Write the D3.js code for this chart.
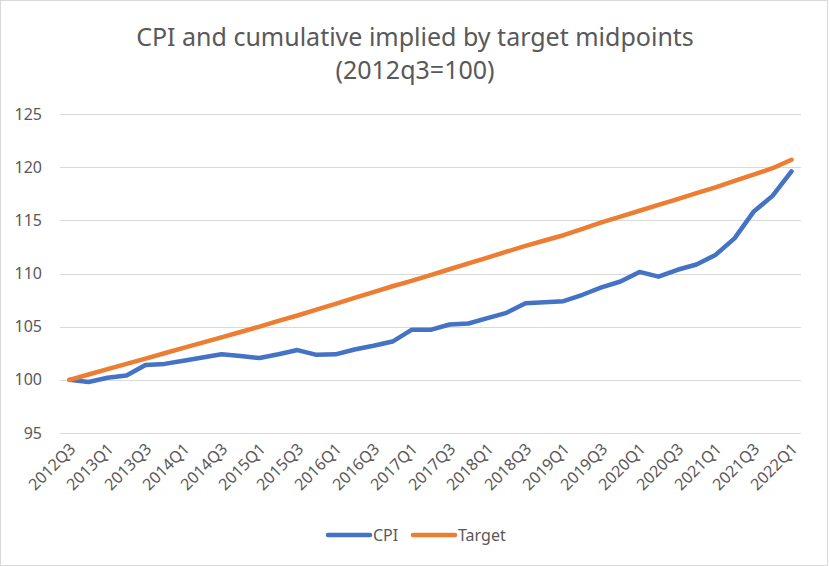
<!DOCTYPE html>
<html>
<head>
<meta charset="utf-8">
<script src="https://cdn.jsdelivr.net/npm/d3@7"></script>
<style>
  html, body { margin: 0; padding: 0; background: #fff; }
  svg { display: block; }
</style>
</head>
<body>
<script>
// quarters 2012Q3 .. 2022Q1
const quarters = [
  "2012Q3","2012Q4","2013Q1","2013Q2","2013Q3","2013Q4","2014Q1","2014Q2","2014Q3","2014Q4",
  "2015Q1","2015Q2","2015Q3","2015Q4","2016Q1","2016Q2","2016Q3","2016Q4","2017Q1","2017Q2",
  "2017Q3","2017Q4","2018Q1","2018Q2","2018Q3","2018Q4","2019Q1","2019Q2","2019Q3","2019Q4",
  "2020Q1","2020Q2","2020Q3","2020Q4","2021Q1","2021Q2","2021Q3","2021Q4","2022Q1"
];

const cpi = [
  100.0, 99.8, 100.2, 100.4, 101.4, 101.5, 101.8, 102.1, 102.4, 102.25,
  102.05, 102.4, 102.8, 102.35, 102.4, 102.85, 103.2, 103.6, 104.7, 104.7,
  105.2, 105.3, 105.8, 106.3, 107.2, 107.3, 107.4, 108.0, 108.7, 109.25,
  110.15, 109.7, 110.35, 110.85, 111.75, 113.3, 115.8, 117.3, 119.6
];

const target = [
  100.0, 100.5, 101.0, 101.5, 102.0, 102.5, 103.0, 103.5, 104.0, 104.5,
  105.0, 105.55, 106.05, 106.6, 107.15, 107.7, 108.25, 108.8, 109.3, 109.85,
  110.4, 110.95, 111.5, 112.05, 112.6, 113.1, 113.6, 114.2, 114.8, 115.35,
  115.9, 116.45, 117.0, 117.55, 118.1, 118.7, 119.3, 119.9, 120.7
];

const yTicks = [95, 100, 105, 110, 115, 120, 125];

const series = [
  { name: "CPI", values: cpi, color: "#4472C4" },
  { name: "Target", values: target, color: "#ED7D31" }
];

const width = 830, height = 566;
const margin = { top: 114, right: 29, bottom: 133, left: 60 };
const font = "'Segoe UI', 'Noto Sans', 'Open Sans', sans-serif";
const textColor = "#595959";

const svg = d3.select("body").append("svg")
  .attr("width", width)
  .attr("height", height)
  .attr("viewBox", [0, 0, width, height]);

// chart border
svg.append("rect")
  .attr("x", 0.5).attr("y", 0.5)
  .attr("width", width - 3).attr("height", height - 1)
  .attr("fill", "#fff")
  .attr("stroke", "#d9d9d9");

const x = d3.scaleBand()
  .domain(quarters)
  .range([margin.left, width - margin.right]);

const y = d3.scaleLinear()
  .domain([95, 125])
  .range([height - margin.bottom, margin.top]);

// gridlines
svg.append("g")
  .selectAll("line")
  .data(yTicks)
  .join("line")
  .attr("x1", margin.left)
  .attr("x2", width - margin.right)
  .attr("y1", d => Math.round(y(d)) + 0.5)
  .attr("y2", d => Math.round(y(d)) + 0.5)
  .attr("stroke", "#d9d9d9")
  .attr("stroke-width", 1);

// y axis labels
svg.append("g")
  .style("font", `16px ${font}`)
  .attr("fill", textColor)
  .selectAll("text")
  .data(yTicks)
  .join("text")
  .attr("x", 42)
  .attr("y", d => y(d))
  .attr("dy", "0.35em")
  .attr("text-anchor", "end")
  .text(d => d);

// x axis labels, every second quarter, rotated
const xLabels = quarters.filter((d, i) => i % 2 === 0);
svg.append("g")
  .style("font", `16px ${font}`)
  .attr("fill", textColor)
  .selectAll("text")
  .data(xLabels)
  .join("text")
  .attr("text-anchor", "end")
  .attr("transform", d => {
    const cx = x(d) + x.bandwidth() / 2 + 7;
    const cy = height - margin.bottom + 17;
    return `translate(${cx},${cy}) rotate(-45)`;
  })
  .text(d => d);

// lines
const line = d3.line()
  .x((d, i) => x(quarters[i]) + x.bandwidth() / 2)
  .y(d => y(d));

svg.append("g")
  .attr("fill", "none")
  .selectAll("path")
  .data(series)
  .join("path")
  .attr("d", d => line(d.values))
  .attr("stroke", d => d.color)
  .attr("stroke-width", 4.5)
  .attr("stroke-linejoin", "round")
  .attr("stroke-linecap", "round");

// title
svg.append("text")
  .attr("x", width / 2)
  .attr("text-anchor", "middle")
  .attr("fill", textColor)
  .style("font", `25px ${font}`)
  .selectAll("tspan")
  .data(["CPI and cumulative implied by target midpoints", "(2012q3=100)"])
  .join("tspan")
  .attr("x", width / 2)
  .attr("y", (d, i) => 46 + i * 33)
  .text(d => d);

// legend
const legend = svg.append("g")
  .style("font", `16px ${font}`)
  .attr("fill", textColor);

const legendX = [328, 413];
legend.selectAll("g")
  .data(series)
  .join("g")
  .attr("transform", (d, i) => `translate(${legendX[i]},535)`)
  .each(function (d) {
    const g = d3.select(this);
    g.append("line")
      .attr("x1", 0).attr("x2", 42)
      .attr("stroke", d.color)
      .attr("stroke-width", 4.5)
      .attr("stroke-linecap", "round");
    g.append("text")
      .attr("x", 45)
      .attr("dy", "0.35em")
      .text(d.name);
  });
</script>
</body>
</html>
